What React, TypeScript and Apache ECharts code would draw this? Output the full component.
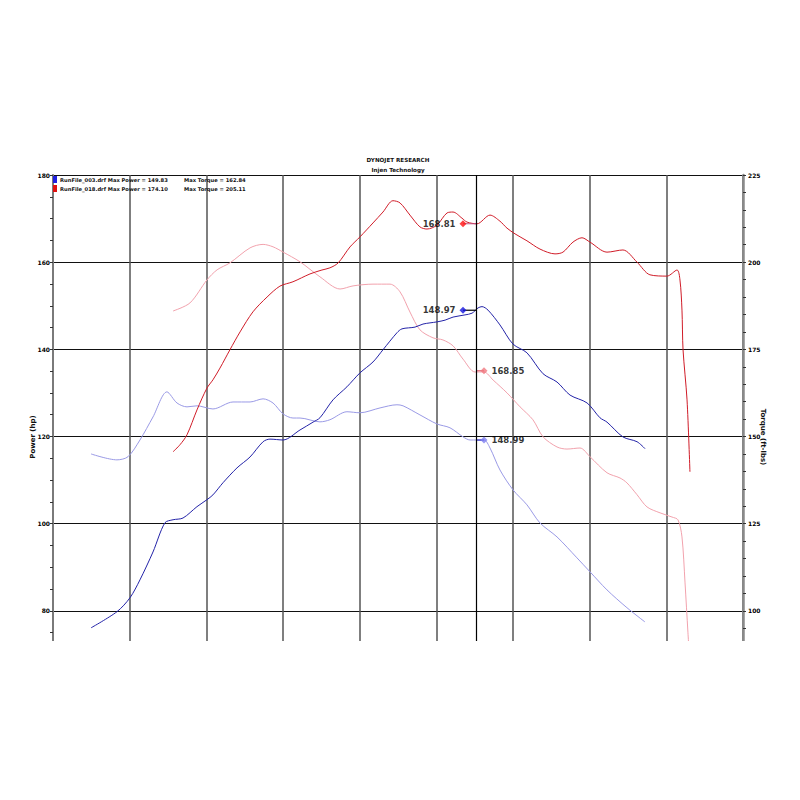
import React, { useEffect, useRef } from "react";
import * as echarts from "echarts";

// RunFile_003 power (rpm, hp)
const rpm003Power = [2248, 2417, 2502, 2567, 2652, 2730, 2783, 2848, 2939, 3004, 3043, 3109, 3200, 3285, 3370, 3415, 3500, 3611, 3696, 3741, 3826, 3917, 4002, 4087, 4152, 4243, 4276, 4361, 4413, 4504, 4557, 4609, 4687, 4733, 4772, 4798, 4837, 4915, 5000, 5091, 5196, 5287, 5372, 5483, 5567, 5613, 5717, 5809, 5861];
const hp003 = [76.1, 79.8, 83.0, 87.1, 93.5, 100.2, 100.9, 101.3, 103.9, 105.5, 106.6, 109.4, 112.8, 115.3, 118.8, 119.4, 119.2, 121.5, 123.3, 124.3, 128.4, 131.4, 134.6, 137.1, 139.9, 143.8, 144.7, 145.1, 145.8, 146.3, 146.7, 147.4, 147.9, 148.3, 149.5, 149.8, 149.0, 145.6, 141.2, 139.2, 134.4, 132.5, 129.5, 127.7, 124.3, 123.3, 119.9, 118.8, 117.2];

// RunFile_003 torque (rpm, ft-lbs)
const rpm003Torque = [2248, 2417, 2489, 2567, 2652, 2743, 2809, 2874, 2939, 3043, 3174, 3285, 3370, 3435, 3500, 3565, 3611, 3741, 3806, 3917, 4002, 4133, 4243, 4283, 4393, 4504, 4589, 4674, 4720, 4811, 4850, 4915, 5000, 5091, 5176, 5287, 5417, 5502, 5613, 5743, 5861];
const tq003 = [145.0, 143.3, 144.2, 149.0, 155.6, 162.8, 159.6, 158.5, 158.8, 157.9, 159.9, 159.9, 160.8, 159.6, 156.5, 155.3, 155.3, 154.2, 154.8, 157.1, 156.8, 158.2, 159.1, 158.8, 156.2, 153.6, 152.5, 149.9, 149.0, 149.0, 146.7, 140.4, 134.7, 130.4, 125.2, 121.2, 115.2, 111.2, 106.0, 100.9, 96.8];

// RunFile_018 power
const rpm018Power = [2783, 2828, 2874, 2939, 3004, 3043, 3089, 3154, 3220, 3304, 3396, 3480, 3565, 3676, 3754, 3806, 3859, 3937, 4002, 4087, 4152, 4217, 4263, 4328, 4393, 4439, 4504, 4570, 4609, 4667, 4700, 4765, 4850, 4915, 4961, 5013, 5091, 5176, 5274, 5326, 5391, 5450, 5502, 5613, 5717, 5809, 5893, 6004, 6070, 6089, 6102, 6109, 6135, 6154];
const hp018 = [116.5, 118.1, 120.4, 126.1, 131.1, 133.0, 135.7, 139.9, 144.0, 148.6, 152.0, 154.5, 155.5, 157.3, 158.2, 158.7, 159.8, 163.5, 165.8, 169.0, 171.5, 174.1, 173.6, 170.8, 168.1, 167.6, 168.5, 171.3, 171.5, 170.1, 169.2, 168.8, 170.8, 169.4, 167.8, 166.5, 164.9, 163.0, 161.9, 162.3, 164.6, 165.6, 164.6, 162.3, 162.8, 160.0, 157.1, 156.8, 158.2, 155.9, 149.0, 139.9, 128.4, 111.9];

// RunFile_018 torque
const rpm018Torque = [2783, 2893, 3004, 3070, 3154, 3285, 3370, 3435, 3500, 3611, 3741, 3872, 3957, 4087, 4198, 4263, 4328, 4393, 4478, 4543, 4609, 4674, 4752, 4811, 4870, 4961, 5046, 5130, 5196, 5287, 5352, 5437, 5502, 5613, 5698, 5743, 5809, 5874, 5959, 6037, 6076, 6102, 6122, 6141, 6154];
const tq018 = [186.0, 188.3, 194.9, 197.8, 199.8, 204.1, 205.1, 204.4, 202.9, 200.1, 195.8, 192.3, 193.2, 193.7, 193.7, 191.5, 185.7, 180.6, 178.3, 177.7, 176.0, 172.2, 168.5, 168.5, 166.2, 162.5, 158.5, 154.8, 149.9, 147.0, 146.4, 146.7, 144.2, 139.6, 138.1, 136.7, 133.3, 129.8, 128.1, 126.9, 126.1, 121.2, 108.0, 93.7, 84.5];

const cursorRpm = 4760;
const powerMarkerRpm = 4674;
const torqueMarkerRpm = 4811;
const markerPower018 = 168.81;
const markerPower003 = 148.97;
const markerTorque018 = 168.85;
const markerTorque003 = 148.99;

const powerTicks = { min: 60, max: 180, interval: 20 };
const torqueTicks = { min: 75, max: 225, interval: 25 };
const rpmTicks = { min: 2000, max: 6500, interval: 500 };

const legendLines = [
  { file: "RunFile_003.drf", power: "149.83", torque: "162.84" },
  { file: "RunFile_018.drf", power: "174.10", torque: "205.11" },
];

const C_RED = "#d01c28";
const C_PINK = "#f2a2ad";
const C_BLUE = "#2323a8";
const C_LBLUE = "#9a9ae6";

const zip = (xs: number[], ys: number[]) => xs.map((x, i) => [x, ys[i]]);

const FONT = "DejaVu Sans";

export default function App() {
  const ref = useRef<HTMLDivElement>(null);
  useEffect(() => {
    if (!ref.current) return;
    const chart = echarts.init(ref.current, undefined, { renderer: "svg" });
    const lineBase = {
      type: "line",
      showSymbol: false,
      symbol: "none",
      smooth: 0.3,
      silent: true,
    };
    const markerSeries = (
      name: string,
      x: number,
      y: number,
      color: string,
      yAxisIndex: number,
      pos: "left" | "right",
      symbol: string
    ) => ({
      name,
      type: "scatter",
      yAxisIndex,
      symbol,
      symbolSize: 7,
      itemStyle: { color },
      label: {
        show: true,
        position: pos,
        distance: 4,
        formatter: () => y.toFixed(2),
        fontFamily: FONT,
        fontWeight: "bold",
        fontSize: 8.5,
        color: "#000",
      },
      data: [[x, y]],
      z: 5,
    });
    const connector = (x1: number, x2: number, y: number, color: string, yAxisIndex: number) => ({
      type: "line",
      yAxisIndex,
      symbol: "none",
      lineStyle: { color, width: 1.2 },
      data: [[x1, y], [x2, y]],
      z: 4,
    });

    chart.setOption({
      animation: false,
      backgroundColor: "#fff",
      grid: { left: 53, right: 57, top: 175, bottom: 102, containLabel: false },
      xAxis: {
        type: "value",
        ...rpmTicks,
        axisLine: { show: false },
        axisTick: { show: false },
        axisLabel: { show: false },
        splitLine: { show: true, lineStyle: { color: "#555", width: 1.5 } },
      },
      yAxis: [
        {
          type: "value",
          ...powerTicks,
          position: "left",
          axisLine: { show: true, lineStyle: { color: "#7a7a7a", width: 2 } },
          axisTick: { show: true, length: 3, lineStyle: { color: "#333" } },
          minorTick: { show: true, splitNumber: 4, length: 3, lineStyle: { color: "#333" } },
          axisLabel: { fontSize: 6, fontWeight: "bold", color: "#000", fontFamily: FONT, margin: 3 },
          splitLine: { show: true, lineStyle: { color: "#111", width: 1 } },
        },
        {
          type: "value",
          ...torqueTicks,
          position: "right",
          axisLine: { show: true, lineStyle: { color: "#8a8a8a", width: 2.5 } },
          axisTick: { show: true, length: 3, lineStyle: { color: "#333" } },
          minorTick: { show: true, splitNumber: 5, length: 3, lineStyle: { color: "#333" } },
          axisLabel: { fontSize: 6, fontWeight: "bold", color: "#000", fontFamily: FONT, margin: 5 },
          splitLine: { show: false },
        },
      ],
      series: [
        {
          ...lineBase,
          name: "RunFile_003 Torque",
          yAxisIndex: 1,
          lineStyle: { color: C_LBLUE, width: 1 },
          data: zip(rpm003Torque, tq003),
        },
        {
          ...lineBase,
          name: "RunFile_018 Torque",
          yAxisIndex: 1,
          lineStyle: { color: C_PINK, width: 1 },
          data: zip(rpm018Torque, tq018),
        },
        {
          ...lineBase,
          name: "RunFile_003 Power",
          yAxisIndex: 0,
          lineStyle: { color: C_BLUE, width: 1 },
          data: zip(rpm003Power, hp003),
          markLine: {
            silent: true,
            symbol: "none",
            label: { show: false },
            lineStyle: { color: "#000", width: 1.2, type: "solid" },
            data: [{ xAxis: cursorRpm }],
          },
        },
        {
          ...lineBase,
          name: "RunFile_018 Power",
          yAxisIndex: 0,
          lineStyle: { color: C_RED, width: 1 },
          data: zip(rpm018Power, hp018),
        },
        connector(powerMarkerRpm, cursorRpm, markerPower018, "#c05080", 0),
        connector(powerMarkerRpm, cursorRpm, markerPower003, "#000", 0),
        connector(cursorRpm, torqueMarkerRpm, markerTorque018, "#e06070", 1),
        connector(cursorRpm, torqueMarkerRpm, markerTorque003, "#3030c0", 1),
        markerSeries("m1", powerMarkerRpm, markerPower018, "#ff1010", 0, "left", "diamond"),
        markerSeries("m2", powerMarkerRpm, markerPower003, "#1515e0", 0, "left", "diamond"),
        markerSeries("m3", torqueMarkerRpm, markerTorque018, "#f07880", 1, "right", "diamond"),
        markerSeries("m4", torqueMarkerRpm, markerTorque003, "#8080f0", 1, "right", "diamond"),
      ],
      graphic: [
        { type: "rect", z: 100, silent: true, shape: { x: 0, y: 641, width: 800, height: 160 }, style: { fill: "#fff" } },
        { type: "text", z: 101, x: 398, y: 160, style: { text: "DYNOJET RESEARCH", fontFamily: FONT, fontWeight: "bold", fontSize: 5.6, fill: "#111", textAlign: "center", textVerticalAlign: "middle" } },
        { type: "text", z: 101, x: 398, y: 170, style: { text: "Injen Technology", fontFamily: FONT, fontWeight: "bold", fontSize: 5.6, fill: "#111", textAlign: "center", textVerticalAlign: "middle" } },
        { type: "rect", z: 101, shape: { x: 53, y: 176, width: 4, height: 7 }, style: { fill: "#2020e0" } },
        { type: "rect", z: 101, shape: { x: 53, y: 185, width: 4, height: 7 }, style: { fill: "#e01010" } },
        ...legendLines.flatMap((l, i) => [
          { type: "text", z: 101, x: 60, y: 180 + i * 9, style: { text: `${l.file} Max Power = ${l.power}`, fontFamily: FONT, fontWeight: "bold", fontSize: 5.2, fill: "#111", textVerticalAlign: "middle" } },
          { type: "text", z: 101, x: 184, y: 180 + i * 9, style: { text: `Max Torque = ${l.torque}`, fontFamily: FONT, fontWeight: "bold", fontSize: 5.2, fill: "#111", textVerticalAlign: "middle" } },
        ]),
        { type: "text", z: 101, x: 33, y: 437, rotation: Math.PI / 2, style: { text: "Power (hp)", fontFamily: FONT, fontWeight: "bold", fontSize: 7, fill: "#111", textAlign: "center", textVerticalAlign: "middle" } },
        { type: "text", z: 101, x: 763, y: 437, rotation: -Math.PI / 2, style: { text: "Torque (ft-lbs)", fontFamily: FONT, fontWeight: "bold", fontSize: 7, fill: "#111", textAlign: "center", textVerticalAlign: "middle" } },
      ],
    });
    return () => chart.dispose();
  }, []);
  return <div ref={ref} style={{ position: "fixed", left: 0, top: 0, width: 800, height: 800, background: "#fff" }} />;
}
